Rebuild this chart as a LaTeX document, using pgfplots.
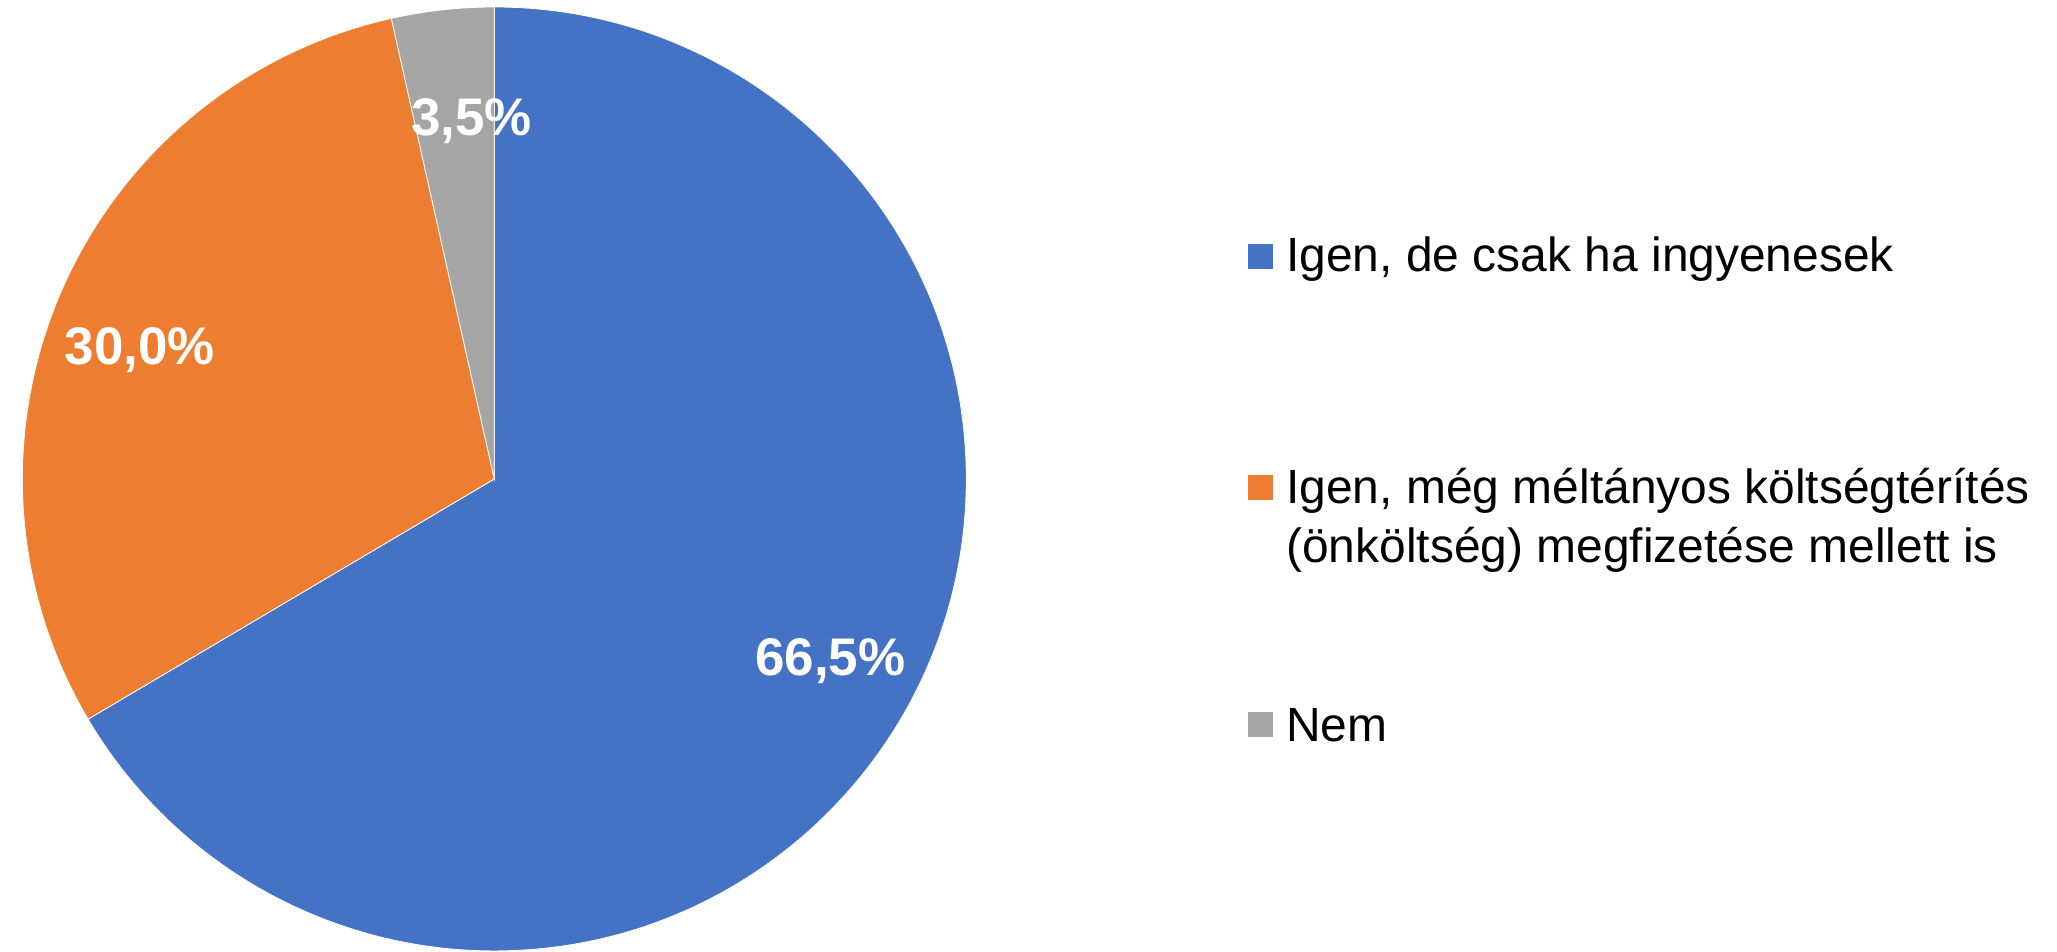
\documentclass[border=0pt]{standalone}
\usepackage{pgfplots}
\pgfplotsset{compat=1.18}
\usepackage{fontspec}
\setmainfont{Liberation Sans}
\definecolor{cblue}{HTML}{4472C4}
\definecolor{corange}{HTML}{ED7D31}
\definecolor{cgrey}{HTML}{A5A5A5}
\begin{document}
\begin{tikzpicture}
\begin{scope}[x=0.5pt,y=-0.5pt]
\path[use as bounding box] (0,0) rectangle (2057,953);
\end{scope}
\begin{axis}[
  at={(246.25pt,-239.75pt)}, anchor=center,
  scale only axis, width=472.5pt, height=472.5pt,
  xmin=-1, xmax=1, ymin=-1, ymax=1,
  hide axis, clip=false]
% values (percent): 66.5, 30.0, 3.5 ; clockwise from 90 deg
\fill[cblue, draw=white, line width=0.4pt] (axis cs:0,0) -- (axis cs:0,1)
  arc[start angle=90, end angle={90-3.6*66.5}, radius=236.25pt] -- cycle;
\fill[corange, draw=white, line width=0.4pt] (axis cs:0,0) -- (axis cs:{cos(90-3.6*66.5)},{sin(90-3.6*66.5)})
  arc[start angle={90-3.6*66.5}, end angle={90-3.6*(66.5+30.0)}, radius=236.25pt] -- cycle;
\fill[cgrey, draw=white, line width=0.4pt] (axis cs:0,0) -- (axis cs:{cos(90-3.6*96.5)},{sin(90-3.6*96.5)})
  arc[start angle={90-3.6*96.5}, end angle={90-3.6*100}, radius=236.25pt] -- cycle;
\node[anchor=base, text=white, font=\fontsize{26.5}{30}\selectfont\bfseries, inner sep=0pt] at (axis cs:0.712,-0.416) {66,5\%};
\node[anchor=base, text=white, font=\fontsize{26.5}{30}\selectfont\bfseries, inner sep=0pt] at (axis cs:-0.751,0.242) {30,0\%};
\node[anchor=base, text=white, font=\fontsize{26.5}{30}\selectfont\bfseries, inner sep=0pt] at (axis cs:-0.048,0.727) {3,5\%};
\end{axis}
\begin{scope}[x=0.5pt,y=-0.5pt]
\fill[cblue] (1247,244) rectangle (1272,269);
\fill[corange] (1247,476) rectangle (1272,501);
\fill[cgrey] (1247,713) rectangle (1272,738);
\begin{scope}[every node/.style={anchor=base west, inner sep=0pt, font=\fontsize{24}{29}\selectfont}]
\node at (1285,272) {Igen, de csak ha ingyenesek};
\node at (1285,504.5) {Igen, még méltányos költségtérítés};
\node at (1285,563.5) {(önköltség) megfizetése mellett is};
\node at (1285,742) {Nem};
\end{scope}
\end{scope}
\end{tikzpicture}
\end{document}
